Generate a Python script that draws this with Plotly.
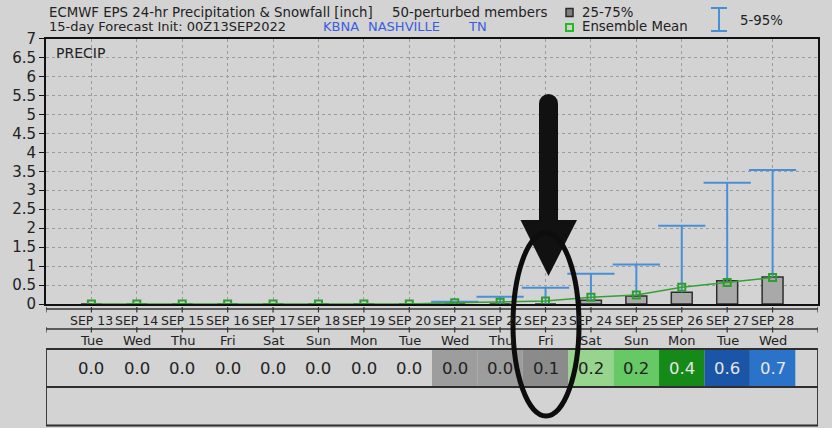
import plotly.graph_objects as go

# ---------------- data ----------------
dates = ["SEP 13", "SEP 14", "SEP 15", "SEP 16", "SEP 17", "SEP 18", "SEP 19", "SEP 20",
         "SEP 21", "SEP 22", "SEP 23", "SEP 24", "SEP 25", "SEP 26", "SEP 27", "SEP 28"]
weekdays = ["Tue", "Wed", "Thu", "Fri", "Sat", "Sun", "Mon", "Tue",
            "Wed", "Thu", "Fri", "Sat", "Sun", "Mon", "Tue", "Wed"]
p05 = [0, 0, 0, 0, 0, 0, 0, 0, 0, 0, 0, 0, 0, 0, 0, 0]
q25 = [0, 0, 0, 0, 0, 0, 0, 0, 0, 0, 0, 0, 0, 0, 0, 0]
q75 = [0, 0, 0, 0, 0, 0, 0, 0, 0, 0, 0, 0.10, 0.21, 0.31, 0.61, 0.71]
p95 = [0, 0, 0, 0, 0, 0, 0, 0, 0.06, 0.19, 0.43, 0.80, 1.04, 2.06, 3.20, 3.53]
ens_mean = [0, 0, 0, 0, 0, 0, 0, 0, 0.03, 0.045, 0.08, 0.18, 0.24, 0.44, 0.57, 0.70]
y_ticks = [0, 0.5, 1, 1.5, 2, 2.5, 3, 3.5, 4, 4.5, 5, 5.5, 6, 6.5, 7]

W, H = 832, 428
BG = "#d3d3d3"
FONT = "DejaVu Sans"


def py(p):
    return 1 - p / H


def px(p):
    return p / W


idx = list(range(len(dates)))

fig = go.Figure()

# 25-75% boxes
fig.add_trace(go.Bar(
    x=idx, y=[b - a for a, b in zip(q25, q75)], base=q25, width=0.46,
    marker=dict(color="#a9a9a9", line=dict(color="#2e2e2e", width=1.5)),
    hoverinfo="skip"))

# 5-95% whiskers (upper part above box + cap)
wx, wy = [], []
for i, top, box in zip(idx, p95, q75):
    if top > box:
        wx += [i, i, None, i - 0.52, i + 0.52, None]
        wy += [box, top, None, top, top, None]
fig.add_trace(go.Scatter(x=wx, y=wy, mode="lines",
                         line=dict(color="#4a8fd6", width=2), hoverinfo="skip"))

# ensemble mean
fig.add_trace(go.Scatter(
    x=idx, y=ens_mean, mode="lines+markers",
    line=dict(color="#35a035", width=1.5),
    marker=dict(symbol="square-open", size=7, color="#2e9e2e", line=dict(width=2)),
    hoverinfo="skip"))

fig.update_layout(
    width=W, height=H, margin=dict(l=0, r=0, t=0, b=0, pad=0), autosize=False,
    paper_bgcolor=BG, plot_bgcolor=BG, showlegend=False,
    font=dict(family=FONT, color="#222"),
    xaxis=dict(domain=[px(46), px(818)], range=[-1, 16], tickvals=idx, automargin=False,
               showticklabels=False, ticks="", showgrid=True,
               gridcolor="#9c9c9c", griddash="dot", gridwidth=1,
               showline=True, linecolor="#111", linewidth=2, mirror=True, zeroline=False),
    yaxis=dict(domain=[py(304), py(38.5)], range=[0, 7], tickvals=y_ticks, automargin=False,
               ticktext=[("%g" % v) for v in y_ticks], ticks="outside", ticklen=5,
               tickcolor="#111", tickfont=dict(size=15, color="#222"),
               showgrid=True, gridcolor="#9c9c9c", griddash="dot", gridwidth=1,
               showline=True, linecolor="#111", linewidth=2, mirror=True, zeroline=False),
)

shapes = []
ann = []


def text_at(x, y, txt, size=13, color="#222"):
    ann.append(dict(x=px(x), y=py(y), xref="paper", yref="paper", xanchor="left",
                    yanchor="middle", text=txt, showarrow=False,
                    font=dict(size=size, color=color)))


# ----- title / header -----
text_at(47, 12.5, "ECMWF EPS 24-hr Precipitation & Snowfall [inch]", 13.3)
text_at(390, 12.5, "50-perturbed members", 13.3)
text_at(47, 26.5, "15-day Forecast Init: 00Z13SEP2022", 13)
for txt, xx in [("KBNA", 320.5), ("NASHVILLE", 365.5), ("TN", 466)]:
    text_at(xx, 26.5, txt, 13, "#3b5ee0")

# legend
shapes.append(dict(type="rect", xref="paper", yref="paper", x0=px(566), x1=px(573),
                   y0=py(16.5), y1=py(8.5), fillcolor="#808080",
                   line=dict(color="#2a2a2a", width=1.5)))
text_at(580, 12.5, "25-75%", 13.3)
shapes.append(dict(type="rect", xref="paper", yref="paper", x0=px(566), x1=px(573),
                   y0=py(31), y1=py(24), fillcolor=BG,
                   line=dict(color="#22bb22", width=2)))
text_at(580, 27, "Ensemble Mean", 13.3)
for (x0, y0, x1, y1) in [(719, 8, 719, 31), (711, 8, 727, 8), (711, 31, 727, 31)]:
    shapes.append(dict(type="line", xref="paper", yref="paper", x0=px(x0), x1=px(x1),
                       y0=py(y0), y1=py(y1), line=dict(color="#4a8fd6", width=2)))
text_at(738, 20, "5-95%", 13.3)

# PRECIP label
text_at(54, 53, "PRECIP", 14)

# ----- date rows -----
for line_y, lab_y, labels, size in [(309, 320.5, dates, 12.5), (329, 340.5, weekdays, 13)]:
    shapes.append(dict(type="line", xref="x", yref="paper", x0=-1, x1=16,
                       y0=py(line_y), y1=py(line_y), line=dict(color="#333", width=1.5)))
    for xt in [-1] + idx + [16]:
        shapes.append(dict(type="line", xref="x", yref="paper", x0=xt, x1=xt,
                           y0=py(line_y - 2), y1=py(line_y + 3.5), line=dict(color="#333", width=1.2)))
    for i, lab in zip(idx, labels):
        ann.append(dict(x=i, y=py(lab_y), xref="x", yref="paper", xanchor="center",
                        yanchor="middle", text=lab, showarrow=False,
                        font=dict(size=size, color="#222")))


# ----- value table -----
def cell_color(v):
    if v < 0.01:
        return None, "#222"
    if v < 0.06:
        return "#9d9d9d", "#222"
    if v < 0.1:
        return "#8b8b8b", "#222"
    if v < 0.2:
        return "#97d48e", "#222"
    if v < 0.3:
        return "#66c966", "#222"
    if v < 0.5:
        return "#158a18", "#e6e6e6"
    if v < 0.65:
        return "#1b55a7", "#e6e6e6"
    return "#2b72c9", "#e6e6e6"


for i, v in zip(idx, ens_mean):
    fill, tcol = cell_color(v)
    if fill:
        shapes.append(dict(type="rect", xref="x", yref="paper", x0=i - 0.5, x1=i + 0.5,
                           y0=py(386.5), y1=py(349.5), fillcolor=fill, line=dict(width=0),
                           layer="below"))
    ann.append(dict(x=i, y=py(368), xref="x", yref="paper", xanchor="center", yanchor="middle",
                    text="%.1f" % v, showarrow=False, font=dict(size=16.5, color=tcol)))

for (y0, y1) in [(349, 387), (387, 425.5)]:
    shapes.append(dict(type="rect", xref="x", yref="paper", x0=-1, x1=16,
                       y0=py(y1), y1=py(y0), line=dict(color="#2e2e2e", width=1.8)))

# ----- overlay: arrow + ellipse -----
shaft = ("M %f,%f L %f,%f L %f,%f L %f,%f Z" %
         (px(539), py(104), px(539), py(224), px(558), py(224), px(558), py(104)))
shapes.append(dict(type="path", xref="paper", yref="paper", path=shaft,
                   fillcolor="#111", line=dict(width=0)))
shapes.append(dict(type="circle", xref="paper", yref="paper", x0=px(539), x1=px(558),
                   y0=py(113), y1=py(94), fillcolor="#111", line=dict(width=0)))
head = ("M %f,%f L %f,%f L %f,%f Z" %
        (px(520.5), py(220), px(577), py(220), px(548.5), py(276)))
shapes.append(dict(type="path", xref="paper", yref="paper", path=head,
                   fillcolor="#111", line=dict(width=0)))
shapes.append(dict(type="circle", xref="paper", yref="paper", x0=px(513), x1=px(579),
                   y0=py(416), y1=py(233), line=dict(color="#0d0d0d", width=5)))

fig.update_layout(shapes=shapes, annotations=ann)
fig.write_html("out.html", config={"displayModeBar": False},
               post_script="document.body.style.margin='0px';document.body.style.overflow='hidden';")
